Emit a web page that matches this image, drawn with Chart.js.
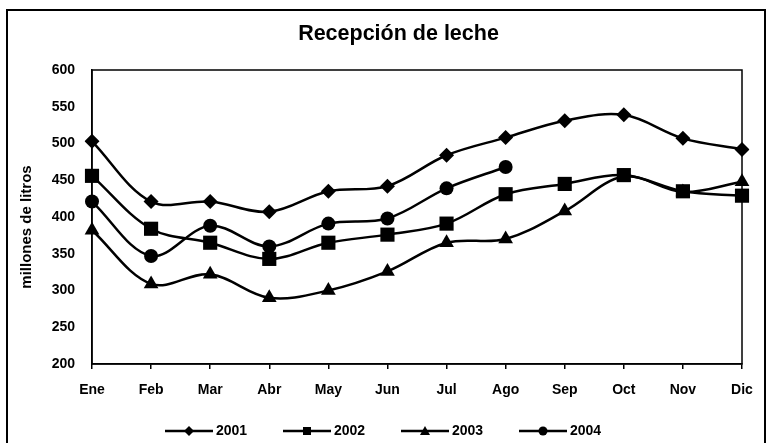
<!DOCTYPE html>
<html>
<head>
<meta charset="utf-8">
<script src="https://cdn.jsdelivr.net/npm/chart.js@4/dist/chart.umd.min.js"></script>
<style>
html,body{margin:0;padding:0;background:#fff;}
#wrap{width:771px;height:443px;}
</style>
</head>
<body>
<div id="wrap"><canvas id="c" width="771" height="443"></canvas></div>
<script>
const chartTitle = "Recepción de leche";
const yAxisTitle = "millones de litros";
const months = ["Ene","Feb","Mar","Abr","May","Jun","Jul","Ago","Sep","Oct","Nov","Dic"];
const years = ["2001","2002","2003","2004"];
const v2001 = [503,421,421,407,435,442,484,508,531,539,507,492];
const v2002 = [456,384,365,343,365,376,391,431,445,457,435,429];
const v2003 = [382,309,322,290,300,326,365,370,408,455,434,448];
const v2004 = [421,347,388,360,391,398,439,468,null,null,null,null];
const yTicks = [200,250,300,350,400,450,500,550,600];

const styles = ['rectRot','rect','triangle','circle'];
const radii = [7.5,10,8.5,7];
const series = [v2001,v2002,v2003,v2004];
const FAM = "'Liberation Sans', Arial, sans-serif";

function marker(g, style, cx, cy, r){
  g.beginPath();
  if(style==='rectRot'){g.moveTo(cx,cy-r-1);g.lineTo(cx+r+1,cy);g.lineTo(cx,cy+r+1);g.lineTo(cx-r-1,cy);g.closePath();}
  else if(style==='rect'){g.rect(cx-r,cy-r,2*r,2*r);}
  else if(style==='triangle'){g.moveTo(cx,cy-r-1);g.lineTo(cx+r+1,cy+r);g.lineTo(cx-r-1,cy+r);g.closePath();}
  else {g.arc(cx,cy,r+0.5,0,Math.PI*2);}
  g.fill();
}

const deco = {
  id:'deco',
  beforeDraw(chart){
    const ctx = chart.ctx;
    ctx.save();
    ctx.fillStyle = '#fff';
    ctx.fillRect(0,0,chart.width,chart.height);
    ctx.strokeStyle = '#000'; ctx.lineWidth = 2;
    ctx.strokeRect(7,10,758,450);
    // title
    ctx.fillStyle = '#000';
    ctx.font = "bold 21.5px " + FAM;
    ctx.textAlign = 'center'; ctx.textBaseline = 'middle';
    ctx.fillText(chartTitle, 398.5, 34);
    // y axis title
    ctx.save();
    ctx.translate(26.5, 227);
    ctx.rotate(-Math.PI/2);
    ctx.font = "bold 15px " + FAM;
    ctx.fillText(yAxisTitle, 0, 0);
    ctx.restore();
    ctx.restore();
  },
  beforeDatasetsDraw(chart){
    const a = chart.chartArea, ctx = chart.ctx;
    ctx.save();
    ctx.strokeStyle = '#000'; ctx.lineWidth = 1.5;
    ctx.strokeRect(a.left,a.top,a.right-a.left,a.bottom-a.top);
    ctx.restore();
  },
  afterDraw(chart){
    const ctx = chart.ctx;
    ctx.save();
    ctx.strokeStyle = '#000'; ctx.fillStyle = '#000'; ctx.lineWidth = 2.5;
    ctx.font = "bold 14px " + FAM;
    ctx.textAlign = 'left'; ctx.textBaseline = 'middle';
    const y = 431;
    chart.data.datasets.forEach((ds,i)=>{
      const lx = 165 + 118*i;
      ctx.beginPath(); ctx.moveTo(lx,y); ctx.lineTo(lx+48,y); ctx.stroke();
      marker(ctx, styles[i], lx+24, y, 4);
      ctx.fillText(ds.label, lx+51, y+0.5);
    });
    ctx.restore();
  }
};

const tickFont = {family:FAM, weight:'bold', size:14};

new Chart(document.getElementById('c'), {
  type:'line',
  data:{
    labels: months,
    datasets: series.map((d,i)=>({
      label: years[i],
      data: d,
      borderColor:'#000',
      backgroundColor:'#000',
      borderWidth:2.5,
      pointStyle: styles[i],
      pointRadius: radii[i],
      pointHoverRadius: radii[i],
      pointBackgroundColor:'#000',
      pointBorderColor:'#000',
      pointBorderWidth:0,
      tension:0.35,
      spanGaps:false
    }))
  },
  options:{
    responsive:false,
    animation:false,
    devicePixelRatio:1,
    layout:{padding:{left:10,right:29,top:70,bottom:0}},
    plugins:{
      title:{display:false},
      legend:{display:false},
      tooltip:{enabled:false}
    },
    scales:{
      x:{
        offset:false,
        grid:{display:true,drawOnChartArea:false,drawTicks:true,tickLength:5,color:'#000',lineWidth:1.5},
        border:{display:true,color:'#000',width:1.5},
        ticks:{color:'#000',font:tickFont,padding:13,maxRotation:0,autoSkip:false},
        afterFit(s){ s.height = 79; }
      },
      y:{
        min:200,max:600,
        afterBuildTicks(s){ s.ticks = yTicks.map(v=>({value:v})); },
        grid:{display:true,drawOnChartArea:false,drawTicks:false,color:'#000'},
        border:{display:true,color:'#000',width:1.5},
        ticks:{color:'#000',font:tickFont,padding:17},
        afterFit(s){ s.width = 82; }
      }
    }
  },
  plugins:[deco]
});
</script>
</body>
</html>
